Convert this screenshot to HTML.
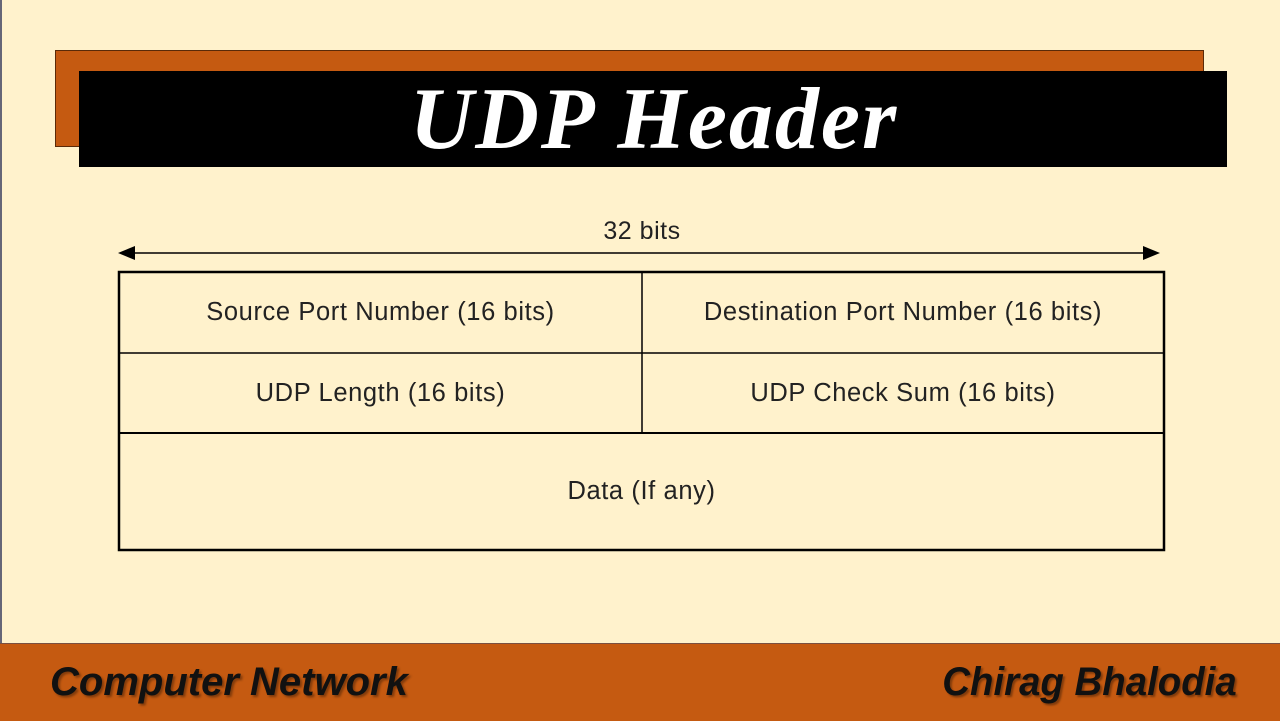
<!DOCTYPE html>
<html><head><style>
html,body{margin:0;padding:0}
body{width:1280px;height:720px;background:#FFF2CC;position:relative;overflow:hidden;font-family:"Liberation Sans",sans-serif}
.abs{position:absolute}
.cell{position:absolute;display:flex;align-items:center;justify-content:center;font-size:25.5px;letter-spacing:0.6px;color:#222}
</style></head><body>
<div class="abs" style="left:0;top:0;width:2px;height:720px;background:#667"></div>
<div class="abs" style="left:55px;top:50px;width:1147px;height:95px;background:#C55A11;border:1px solid #5a2a08"></div>
<div class="abs" style="left:79px;top:71px;width:1148px;height:96px;background:#000"></div>
<div class="abs" style="left:79px;top:71px;width:1148px;height:96px;display:flex;align-items:center;justify-content:center;color:#fff;font-family:'Liberation Serif',serif;font-weight:bold;font-style:italic;font-size:88px;letter-spacing:2px;padding-left:2px;box-sizing:border-box">UDP Header</div>

<div class="abs" style="left:0;top:217px;width:1284px;text-align:center;font-size:25px;letter-spacing:0.5px;color:#222">32 bits</div>
<svg class="abs" style="left:0;top:0" width="1280" height="720">
<line x1="125" y1="253" x2="1152" y2="253" stroke="#000" stroke-width="1.5"/>
<polygon points="118,253 135,246 135,260" fill="#000"/>
<polygon points="1160,253 1143,246 1143,260" fill="#000"/>
<rect x="119" y="272" width="1045" height="278" fill="none" stroke="#000" stroke-width="2.5"/>
<line x1="119" y1="353" x2="1164" y2="353" stroke="#000" stroke-width="1.5"/>
<line x1="119" y1="433" x2="1164" y2="433" stroke="#000" stroke-width="2"/>
<line x1="642" y1="272" x2="642" y2="433" stroke="#000" stroke-width="1.5"/>
</svg>
<div class="cell" style="left:119px;top:272px;width:523px;height:81px">Source Port Number (16 bits)</div>
<div class="cell" style="left:642px;top:272px;width:522px;height:81px">Destination Port Number (16 bits)</div>
<div class="cell" style="left:119px;top:353px;width:523px;height:80px">UDP Length (16 bits)</div>
<div class="cell" style="left:642px;top:353px;width:522px;height:80px">UDP Check Sum (16 bits)</div>
<div class="cell" style="left:119px;top:433px;width:1045px;height:117px">Data (If any)</div>

<div class="abs" style="left:0;top:643px;width:1280px;height:77px;background:#C55A11;border-top:1px solid #7a5040"></div>
<div class="abs" style="left:50px;top:660px;font-size:40px;font-weight:bold;font-style:italic;color:#111;transform-origin:left;text-shadow:2px 2px 2px rgba(0,0,0,.35)">Computer Network</div>
<div class="abs" style="right:43px;top:660px;font-size:40px;font-weight:bold;font-style:italic;color:#111;transform:scaleX(0.96);transform-origin:right;text-shadow:2px 2px 2px rgba(0,0,0,.35)">Chirag Bhalodia</div>
</body></html>
